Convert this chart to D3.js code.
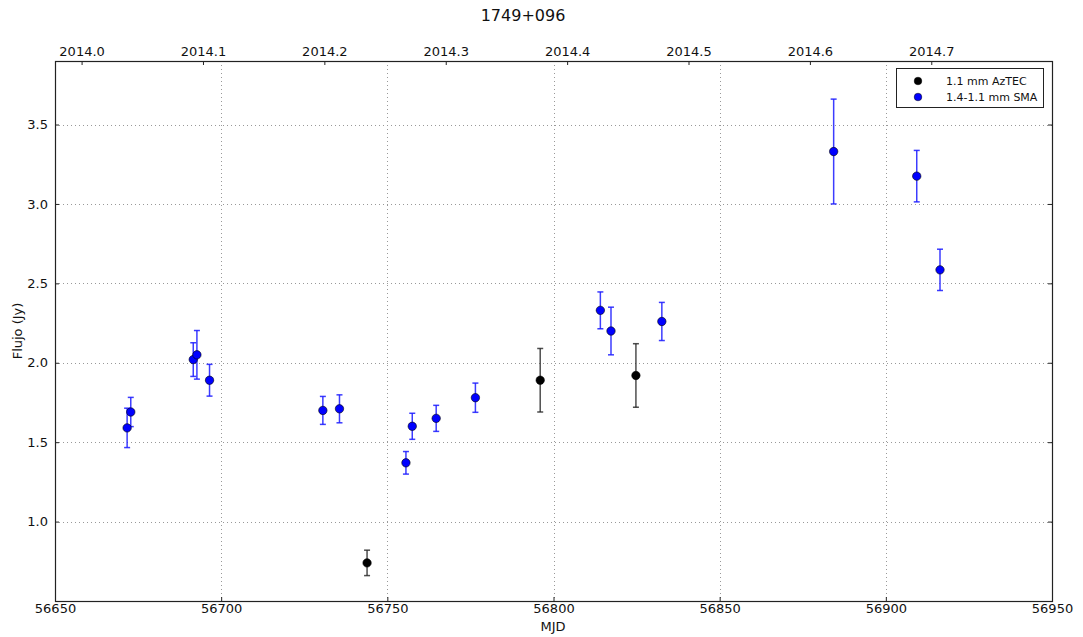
<!DOCTYPE html>
<html>
<head>
<meta charset="utf-8">
<script src="https://cdn.jsdelivr.net/npm/d3@7"></script>
<style>
  html, body { margin: 0; padding: 0; background: #fff; }
  svg { display: block; font-family: "DejaVu Sans", sans-serif; }
</style>
</head>
<body>
<svg id="chart" width="1083" height="637"></svg>
<script>
// 1.1 mm AzTEC light curve points
const aztecMjd  = [56743.9, 56796.0, 56824.8];
const aztecFlux = [0.74, 1.89, 1.92];
const aztecErr  = [0.08, 0.20, 0.20];

// 1.4-1.1 mm SMA light curve points
const smaMjd  = [56671.7, 56672.8, 56691.6, 56692.7, 56696.5, 56730.6, 56735.6,
                 56755.6, 56757.5, 56764.7, 56776.5, 56814.1, 56817.3, 56832.6,
                 56884.3, 56909.3, 56916.3];
const smaFlux = [1.59, 1.69, 2.02, 2.05, 1.89, 1.70, 1.71,
                 1.37, 1.60, 1.65, 1.78, 2.33, 2.20, 2.26,
                 3.33, 3.175, 2.585];
const smaErr  = [0.124, 0.092, 0.106, 0.153, 0.10, 0.088, 0.088,
                 0.071, 0.082, 0.082, 0.092, 0.116, 0.15, 0.12,
                 0.33, 0.162, 0.13];

// Axis ticks
const mjdTicks  = [56650, 56700, 56750, 56800, 56850, 56900, 56950];
const fluxTicks = [1.0, 1.5, 2.0, 2.5, 3.0, 3.5];
const yearTicks = [2014.0, 2014.1, 2014.2, 2014.3, 2014.4, 2014.5, 2014.6, 2014.7];

const titleText = "1749+096";
const xLabel = "MJD";
const yLabel = "Flujo (Jy)";
const legendLabels = ["1.1 mm AzTEC", "1.4-1.1 mm SMA"];

const margin = { left: 55, right: 1052, top: 61, bottom: 601 };
const svg = d3.select("#chart");

const x = d3.scaleLinear().domain([56650, 56950]).range([margin.left, margin.right]);
const y = d3.scaleLinear().domain([0.5, 3.9]).range([margin.bottom, margin.top]);
// decimal year axis on top (MJD 56658 = 2014-01-01)
const xYear = d3.scaleLinear()
  .domain([2014 + (56650 - 56658) / 365.25, 2014 + (56950 - 56658) / 365.25])
  .range([margin.left, margin.right]);

const W = margin.right - margin.left, H = margin.bottom - margin.top;

// grid
const grid = svg.append("g").attr("stroke", "#999").attr("stroke-width", 1)
  .attr("stroke-dasharray", "1,3");
grid.selectAll("line.gx").data(mjdTicks.slice(1, -1)).join("line")
  .attr("x1", d => Math.round(x(d)) + 0.5).attr("x2", d => Math.round(x(d)) + 0.5)
  .attr("y1", margin.top).attr("y2", margin.bottom);
grid.selectAll("line.gy").data(fluxTicks).join("line")
  .attr("x1", margin.left).attr("x2", margin.right)
  .attr("y1", d => Math.round(y(d)) + 0.5).attr("y2", d => Math.round(y(d)) + 0.5);

// axes with inward ticks
function styleAxis(g) {
  g.select(".domain").remove();
  g.selectAll("text").attr("font-family", "DejaVu Sans, sans-serif")
    .attr("font-size", 13).attr("fill", "#111");
  g.selectAll(".tick line").attr("stroke", "#222");
}
svg.append("g").attr("transform", `translate(0,${margin.bottom})`)
  .call(d3.axisBottom(x).tickValues(mjdTicks).tickFormat(d3.format("d"))
    .tickSizeInner(-4).tickPadding(3))
  .call(styleAxis);
svg.append("g").attr("transform", `translate(0,${margin.top})`)
  .call(d3.axisTop(xYear).tickValues(yearTicks).tickFormat(d3.format(".1f"))
    .tickSizeInner(-4).tickPadding(5))
  .call(styleAxis);
svg.append("g").attr("transform", `translate(${margin.left},0)`)
  .call(d3.axisLeft(y).tickValues(fluxTicks).tickFormat(d3.format(".1f"))
    .tickSizeInner(-4).tickPadding(7))
  .call(styleAxis);
svg.append("g").attr("transform", `translate(${margin.right},0)`)
  .call(d3.axisRight(y).tickValues(fluxTicks).tickFormat("")
    .tickSizeInner(-4))
  .call(styleAxis);

// frame
svg.append("rect").attr("x", margin.left + 0.5).attr("y", margin.top + 0.5)
  .attr("width", W).attr("height", H)
  .attr("fill", "none").attr("stroke", "#222").attr("stroke-width", 1.2);

// error bars + markers
function drawSeries(mjd, flux, err, color, barColor, barOpacity) {
  const data = mjd.map((m, i) => ({ m, f: flux[i], e: err[i] }));
  const g = svg.append("g");
  const eb = g.append("g").attr("stroke", barColor).attr("stroke-opacity", barOpacity)
    .attr("stroke-width", 1.5);
  eb.selectAll("line.v").data(data).join("line")
    .attr("x1", d => x(d.m)).attr("x2", d => x(d.m))
    .attr("y1", d => y(d.f - d.e)).attr("y2", d => y(d.f + d.e));
  eb.selectAll("line.c1").data(data).join("line")
    .attr("x1", d => x(d.m) - 3).attr("x2", d => x(d.m) + 3)
    .attr("y1", d => y(d.f + d.e)).attr("y2", d => y(d.f + d.e));
  eb.selectAll("line.c2").data(data).join("line")
    .attr("x1", d => x(d.m) - 3).attr("x2", d => x(d.m) + 3)
    .attr("y1", d => y(d.f - d.e)).attr("y2", d => y(d.f - d.e));
  g.selectAll("circle").data(data).join("circle")
    .attr("cx", d => x(d.m)).attr("cy", d => y(d.f)).attr("r", 4.2)
    .attr("fill", color).attr("stroke", "#000").attr("stroke-width", 0.6);
}
drawSeries(aztecMjd, aztecFlux, aztecErr, "#000", "#222", 0.8);
drawSeries(smaMjd, smaFlux, smaErr, "#0000ff", "#1a1aff", 0.85);

// legend
const lg = svg.append("g");
lg.append("rect").attr("x", 896.5).attr("y", 68.5).attr("width", 147).attr("height", 39)
  .attr("fill", "#fff").attr("stroke", "#222").attr("stroke-width", 1);
const legColors = ["#000", "#0000ff"];
legendLabels.forEach((t, i) => {
  lg.append("circle").attr("cx", 918).attr("cy", 81 + i * 16).attr("r", 3.8)
    .attr("fill", legColors[i]).attr("stroke", "#000").attr("stroke-width", 0.5);
  lg.append("text").attr("x", 946).attr("y", 85 + i * 16)
    .attr("font-size", 11).attr("fill", "#111").text(t);
});

// titles
svg.append("text").attr("x", 523).attr("y", 21).attr("text-anchor", "middle")
  .attr("font-size", 16).attr("fill", "#111").text(titleText);
svg.append("text").attr("x", 553).attr("y", 631).attr("text-anchor", "middle")
  .attr("font-size", 13).attr("fill", "#111").text(xLabel);
svg.append("text").attr("transform", "translate(22,331) rotate(-90)")
  .attr("text-anchor", "middle").attr("font-size", 13).attr("fill", "#111").text(yLabel);
</script>
</body>
</html>
